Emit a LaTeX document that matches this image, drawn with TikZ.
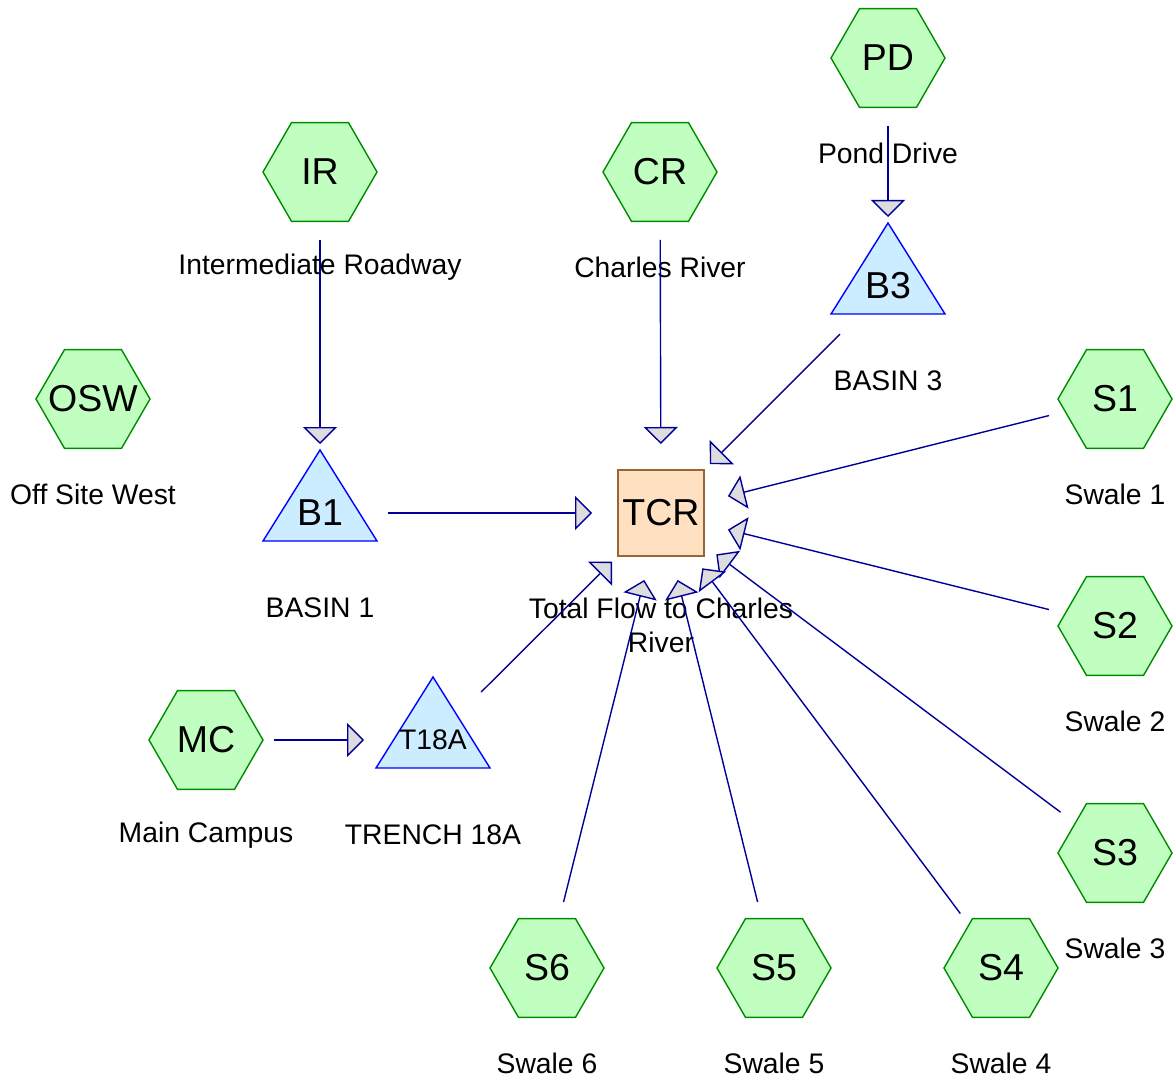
\documentclass[tikz,border=0pt]{standalone}
\usepackage{fontspec}
\setmainfont{Liberation Sans}
\usepackage{xcolor}
\usetikzlibrary{arrows.meta, shapes.geometric, backgrounds}

\definecolor{areafill}{RGB}{192,255,192}
\definecolor{areaedge}{RGB}{0,140,0}
\definecolor{tankfill}{RGB}{204,236,255}
\definecolor{tankedge}{RGB}{0,0,255}
\definecolor{sumfill}{RGB}{255,224,192}
\definecolor{sumedge}{RGB}{153,102,51}
\definecolor{flowblue}{RGB}{0,0,150}
\definecolor{tipgray}{RGB}{221,221,221}

\newcommand{\namefont}{\fontsize{37.5}{44}\selectfont}
\newcommand{\notefont}{\fontsize{28.3}{34}\selectfont}

\begin{document}
\begin{tikzpicture}[
  x=1pt, y=-1pt,
  area/.style={regular polygon, regular polygon sides=6, draw=areaedge, fill=areafill, line width=1.4pt, minimum size=114pt, inner sep=-10pt, font=\namefont},
  tank/.style={inner sep=0pt, font=\namefont},
  tankbody/.style={draw=tankedge, fill=tankfill, line width=1.4pt, line join=miter},
  sum/.style={draw=sumedge, fill=sumfill, line width=1.4pt, minimum size=86pt, inner sep=0pt, font=\namefont},
  lbl/.style={font=\notefont, inner sep=0pt},
  sub/.style={label={[lbl, yshift=-95pt]center:#1}},
  flow/.style={draw=flowblue, line width=1.4pt, shorten <=68pt, shorten >=69pt, -{Triangle[length=17pt, width=34pt, fill=tipgray]}}
]
\useasboundingbox (0,0) rectangle (1175,1083);

\node[area, sub=Pond Drive] (pd) at (888,58) {PD};
\node[area, sub=Intermediate Roadway] (ir) at (320,172) {IR};
\node[area, sub=Charles River] (cr) at (660,172) {CR};
\node[area, sub=Off Site West] (osw) at (93,399) {OSW};
\node[area, sub=Main Campus] (mc) at (206,740) {MC};
\node[area, sub=Swale 1] (s1) at (1115,399) {S1};
\node[area, sub=Swale 2] (s2) at (1115,626) {S2};
\node[area, sub=Swale 3] (s3) at (1115,853) {S3};
\node[area, sub=Swale 4] (s4) at (1001,968) {S4};
\node[area, sub=Swale 5] (s5) at (774,968) {S5};
\node[area, sub=Swale 6] (s6) at (547,968) {S6};

\node[tank, sub=BASIN 1] (b1) at (320,513) {B1};
\node[tank, sub=BASIN 3] (b3) at (888,286) {B3};
\node[tank, sub=TRENCH 18A, font=\notefont] (t18a) at (433,740) {T18A};

\node[sum, label={[lbl, align=center, yshift=-112pt]center:Total Flow to Charles\\River}] (tcr) at (661,513) {TCR};

\begin{scope}[on background layer]
  \foreach \t in {b1, b3, t18a}
    \draw[tankbody] (\t.center) ++(0,-63) -- ++(57,91) -- ++(-114,0) -- cycle;
\end{scope}

\draw[flow] (pd.center) -- (b3.center);
\draw[flow] (ir.center) -- (b1.center);
\draw[flow] (mc.center) -- (t18a.center);
\draw[flow] (cr.center) -- (tcr.center);
\draw[flow] (b1.center) -- (tcr.center);
\draw[flow] (b3.center) -- (tcr.center);
\draw[flow] (t18a.center) -- (tcr.center);
\draw[flow] (s1.center) -- (tcr.center);
\draw[flow] (s2.center) -- (tcr.center);
\draw[flow] (s3.center) -- (tcr.center);
\draw[flow] (s4.center) -- (tcr.center);
\draw[flow] (s5.center) -- (tcr.center);
\draw[flow] (s6.center) -- (tcr.center);
\end{tikzpicture}
\end{document}
